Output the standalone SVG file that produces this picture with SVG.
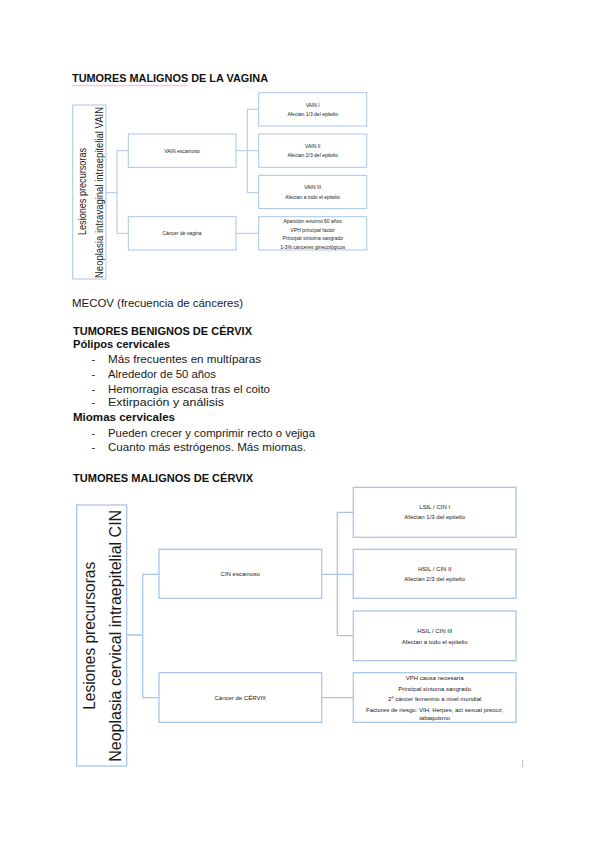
<svg xmlns="http://www.w3.org/2000/svg" width="599" height="848" viewBox="0 0 599 848">
<style>
.bx{fill:#fff;stroke:#a9c6e8;stroke-width:1}
.bx2{fill:#fff;stroke:#a9c6e8;stroke-width:1.3}
.ln{fill:none;stroke:#a9c6e8;stroke-width:1}
.ln2{fill:none;stroke:#a9c6e8;stroke-width:1.3}
.t{font-family:"Liberation Sans",Arial,sans-serif;fill:#1a1a1a;font-size:11px}
.h{font-family:"Liberation Sans",Arial,sans-serif;fill:#111;font-size:11px;font-weight:bold}
.s{font-family:"Liberation Sans",Arial,sans-serif;fill:#222;font-size:5px;text-anchor:middle;dominant-baseline:central}
.m{font-family:"Liberation Sans",Arial,sans-serif;fill:#222;font-size:6px;text-anchor:middle;dominant-baseline:central}
.v{font-family:"Liberation Sans",Arial,sans-serif;fill:#1a1a1a;text-anchor:middle;dominant-baseline:central}
</style>
<rect width="599" height="848" fill="#fff"/>

<!-- Title vagina -->
<text class="h" x="72" y="82" font-size="12" textLength="196" lengthAdjust="spacingAndGlyphs">TUMORES MALIGNOS DE LA VAGINA</text>
<line x1="72" y1="85.5" x2="187" y2="85.5" stroke="#f8c3ea" stroke-width="1.4"/>

<!-- Vagina diagram connectors -->
<g id="connectors-vagina">
<path class="ln" d="M106 192.7H117M117 150.7V233.3M117 150.7H128.3M117 233.3H128.3"/>
<path class="ln" d="M236 150.7H247.3M247.3 109.3V192.7M247.3 109.3H258.7M247.3 150.7H258.7M247.3 192.7H258.7"/>
<path class="ln" d="M236 233.3H258.7"/>
</g>

<g id="vain-root">
<rect class="bx" x="72.7" y="105" width="33.3" height="174"/>
<text class="v" font-size="10" transform="translate(82,191.5) rotate(-90)" textLength="87" lengthAdjust="spacingAndGlyphs">Lesiones precursoras</text>
<text class="v" font-size="10" transform="translate(99,192.5) rotate(-90)" textLength="171" lengthAdjust="spacingAndGlyphs">Neoplasia intravaginal intraepitelial VAIN</text>
</g>
<g id="vain-escamoso">
<rect class="bx" x="128.3" y="134" width="107.7" height="33.3"/>
<text class="s" x="182" y="150.7">VAIN escamoso</text>
</g>
<g id="cancer-vagina">
<rect class="bx" x="128.3" y="216.7" width="107.7" height="33.3"/>
<text class="s" x="182" y="233.3">Cáncer de vagina</text>
</g>
<g id="vain-1">
<rect class="bx" x="258.7" y="92.7" width="108" height="33.3"/>
<text class="s" x="312.7" y="105">VAIN I</text>
<text class="s" x="312.7" y="114">Afectan 1/3 del epitelio</text>
</g>
<g id="vain-2">
<rect class="bx" x="258.7" y="134" width="108" height="33.3"/>
<text class="s" x="312.7" y="146">VAIN II</text>
<text class="s" x="312.7" y="155.3">Afectan 2/3 del epitelio</text>
</g>
<g id="vain-3">
<rect class="bx" x="258.7" y="175.3" width="108" height="33.3"/>
<text class="s" x="312.7" y="187.3">VAIN III</text>
<text class="s" x="312.7" y="196.7">Afectan a todo el epitelio</text>
</g>
<g id="vagina-info">
<rect class="bx" x="258.7" y="216.7" width="108" height="33.3"/>
<text class="s" x="312.7" y="221">Aparición entorno 60 años</text>
<text class="s" x="312.7" y="229.7">VPH principal factor</text>
<text class="s" x="312.7" y="238.3">Principal síntoma sangrado</text>
<text class="s" x="312.7" y="246.7">1-3% cánceres ginecológicos</text>
</g>

<!-- Body text -->
<text class="t" x="72" y="306.5" textLength="171" lengthAdjust="spacingAndGlyphs">MECOV (frecuencia de cánceres)</text>
<text class="h" x="73" y="334.5" textLength="179" lengthAdjust="spacingAndGlyphs">TUMORES BENIGNOS DE CÉRVIX</text>
<text class="h" x="73" y="348" textLength="97" lengthAdjust="spacingAndGlyphs">Pólipos cervicales</text>
<g class="t">
<text x="91.5" y="363">-</text><text x="108" y="363" textLength="153" lengthAdjust="spacingAndGlyphs">Más frecuentes en multíparas</text>
<text x="91.5" y="378">-</text><text x="108" y="378" textLength="108" lengthAdjust="spacingAndGlyphs">Alrededor de 50 años</text>
<text x="91.5" y="392.5">-</text><text x="108" y="392.5" textLength="162" lengthAdjust="spacingAndGlyphs">Hemorragia escasa tras el coito</text>
<text x="91.5" y="406">-</text><text x="108" y="406" textLength="116" lengthAdjust="spacingAndGlyphs">Extirpación y análisis</text>
</g>
<text class="h" x="73" y="421" textLength="102" lengthAdjust="spacingAndGlyphs">Miomas cervicales</text>
<g class="t">
<text x="91.5" y="436.5">-</text><text x="108" y="436.5" textLength="207" lengthAdjust="spacingAndGlyphs">Pueden crecer y comprimir recto o vejiga</text>
<text x="91.5" y="451">-</text><text x="108" y="451" textLength="198" lengthAdjust="spacingAndGlyphs">Cuanto más estrógenos. Más miomas.</text>
</g>
<text class="h" x="73" y="482" textLength="180" lengthAdjust="spacingAndGlyphs">TUMORES MALIGNOS DE CÉRVIX</text>

<!-- Cervix diagram connectors -->
<g id="connectors-cervix">
<path class="ln2" d="M126.7 635H142.7M142.7 574.3V697.7M142.7 574.3H159M142.7 697.7H159"/>
<path class="ln2" d="M321.7 574.3H337.3M337.3 512.3V635.7M337.3 512.3H353.3M337.3 574.3H353.3M337.3 635.7H353.3"/>
<path class="ln2" d="M321.7 697.7H353.3"/>
</g>

<g id="cin-root">
<rect class="bx2" x="76.7" y="505" width="50" height="261"/>
<text class="v" font-size="17" transform="translate(89.3,635.8) rotate(-90)" textLength="148" lengthAdjust="spacingAndGlyphs">Lesiones precursoras</text>
<text class="v" font-size="17" transform="translate(115,635.8) rotate(-90)" textLength="252" lengthAdjust="spacingAndGlyphs">Neoplasia cervical intraepitelial CIN</text>
</g>
<g id="cin-escamoso">
<rect class="bx2" x="159" y="549.3" width="162.7" height="49"/>
<text class="m" x="240.3" y="574">CIN escamoso</text>
</g>
<g id="cancer-cervix">
<rect class="bx2" x="159" y="672.7" width="162.7" height="49.6"/>
<text class="m" x="240.3" y="697.7">Cáncer de CÉRVIX</text>
</g>
<g id="lsil">
<rect class="bx2" x="353.3" y="487.3" width="162.7" height="50"/>
<text class="m" x="434.7" y="507.3">LSIL / CIN I</text>
<text class="m" x="434.7" y="517.3">Afectan 1/3 del epitelio</text>
</g>
<g id="hsil-2">
<rect class="bx2" x="353.3" y="549.3" width="162.7" height="49"/>
<text class="m" x="434.7" y="568.5">HSIL / CIN II</text>
<text class="m" x="434.7" y="579.3">Afectan 2/3 del epitelio</text>
</g>
<g id="hsil-3">
<rect class="bx2" x="353.3" y="611" width="162.7" height="49.7"/>
<text class="m" x="434.7" y="630.7">HSIL / CIN III</text>
<text class="m" x="434.7" y="641.7">Afectan a todo el epitelio</text>
</g>
<g id="cervix-info">
<rect class="bx2" x="353.3" y="672.7" width="162.7" height="49.6"/>
<text class="m" x="434.7" y="677.7">VPH causa necesaria</text>
<text class="m" x="434.7" y="688.7">Principal síntoma sangrado</text>
<text class="m" x="434.7" y="699.3">2º cáncer femenino a nivel mundial</text>
<text class="m" x="434.7" y="710">Factores de riesgo: VIH, Herpes, act sexual precoz,</text>
<text class="m" x="434.7" y="718.3">tabaquismo</text>
</g>
<line x1="522.7" y1="760" x2="522.7" y2="767" stroke="#bbb" stroke-width="1"/>
</svg>
